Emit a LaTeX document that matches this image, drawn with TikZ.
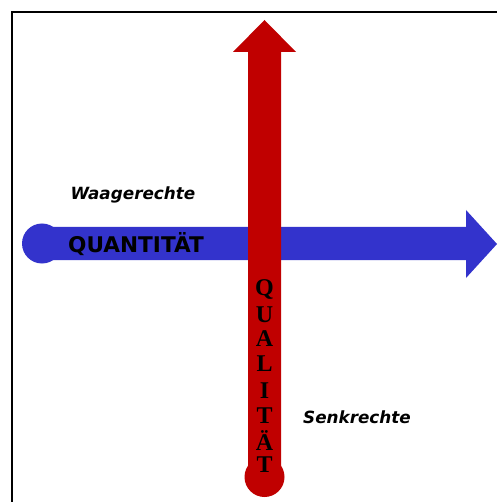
\documentclass[tikz,border=0pt]{standalone}
\usepackage{fontspec}
\setmainfont{DejaVu Sans}
\newfontfamily\lettersfont{Liberation Serif}
\definecolor{redarrow}{RGB}{192,0,0}
\definecolor{bluearrow}{RGB}{51,51,204}
\begin{document}
\begin{tikzpicture}[x=1pt,y=-1pt,
  label/.style={font=\fontsize{16.8}{20}\selectfont\bfseries\itshape, text=black, inner sep=0pt},
  bigword/.style={font=\fontsize{21.6}{26}\selectfont\bfseries, text=black, inner sep=0pt},
  stackletter/.style={font=\lettersfont\fontsize{24}{28}\selectfont\bfseries, text=black, inner sep=0pt}]
\useasboundingbox (0,0) rectangle (497,502);
\fill[white] (0,0) rectangle (497,502);
% frame
\draw[line width=1.6pt] (12,502) -- (12,12) -- (497,12);
% blue horizontal arrow
\fill[bluearrow] (42,227) -- (466,227) -- (466,210) -- (497,244) -- (466,278) -- (466,260) -- (42,260) -- cycle;
\fill[bluearrow] (42,243.5) circle (20);
% red vertical arrow
\fill[redarrow] (248,477) -- (248,52) -- (233,52) -- (264.5,20) -- (296,52) -- (281,52) -- (281,477) -- cycle;
\fill[redarrow] (264.5,477) circle (20);
% texts
\node[label] (waag) at (133,195) {Waagerechte};
\node[label] (senk) at (357,417) {Senkrechte};
\node[bigword] (quant) at (136,244) {QUANTITÄT};
\foreach \l/\yy in {Q/289,U/315,A/339,L/364,I/391,T/416,Ä/441,T/465}{
  \node[stackletter, anchor=center] at (264.5,\yy) {\l};
}
\end{tikzpicture}
\end{document}
